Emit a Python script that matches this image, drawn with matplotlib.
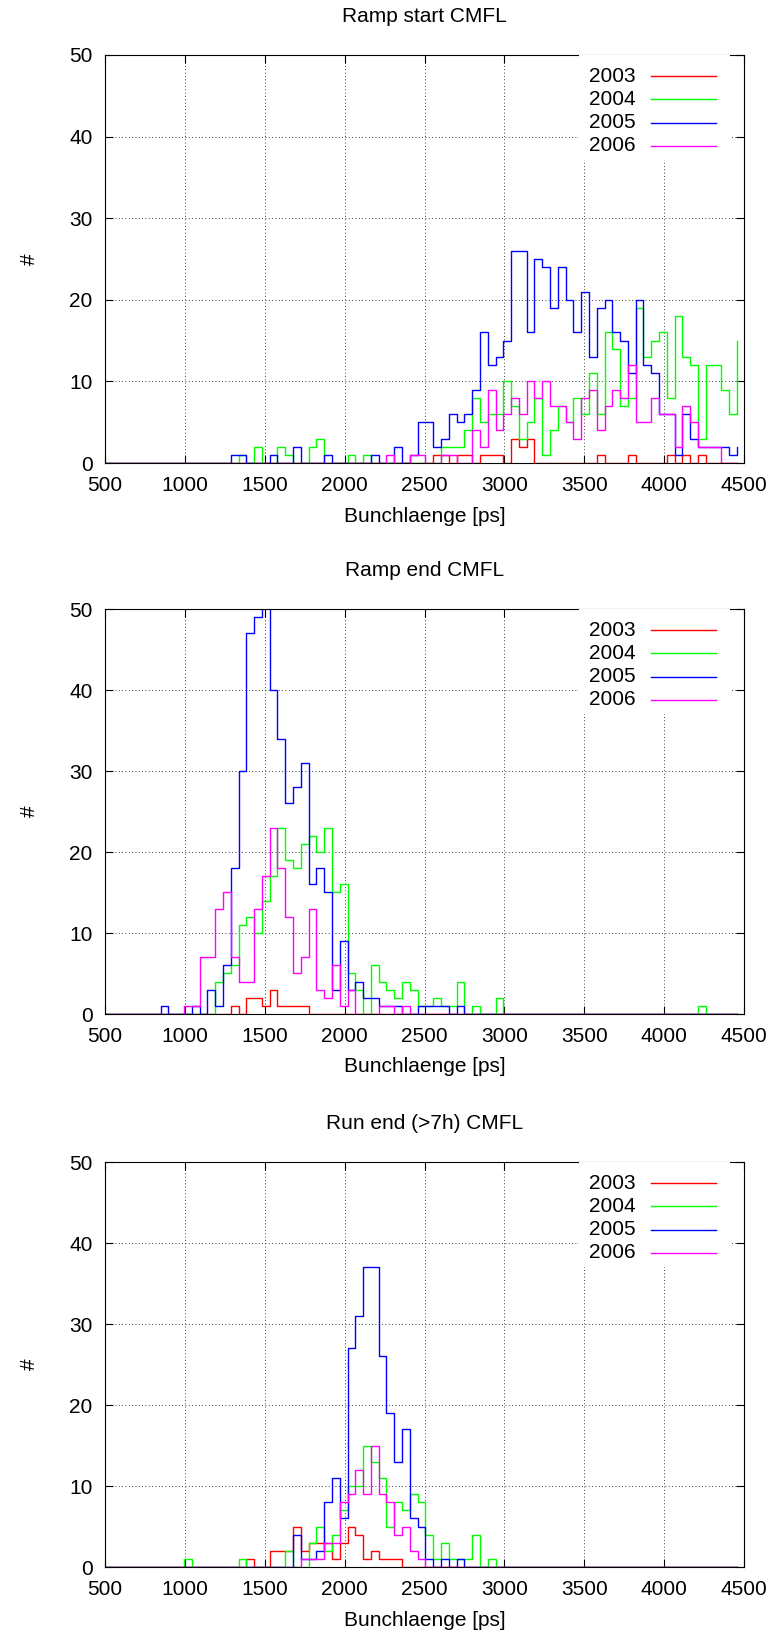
import numpy as np
import matplotlib
matplotlib.use('Agg')
import matplotlib.pyplot as plt
from matplotlib.patches import Rectangle

plt.rcParams['font.family'] = ['Liberation Sans', 'DejaVu Sans']
FS = 15

years = ['2003', '2004', '2005', '2006']
colors = ['#ff0000', '#00ff00', '#0000ff', '#ff00ff']
titles = ['Ramp start CMFL', 'Ramp end CMFL', 'Run end (>7h) CMFL']

# histogram bins (ps): steps drawn at bin_start + k*bin_width
bin_start = 507.
bin_width = 48.75
nbins = 82

# counts per bin index, only non-empty bins listed
start_2003 = {42: 1, 43: 1, 45: 1, 46: 1, 48: 1, 49: 1, 50: 1, 52: 3, 53: 2, 54: 3,
              63: 1, 67: 1, 72: 1, 74: 1, 76: 1}
start_2004 = {17: 1, 19: 2, 22: 2, 23: 1, 26: 2, 27: 3, 31: 1, 33: 1, 43: 2, 44: 2,
              45: 2, 46: 4, 47: 8, 48: 5, 49: 6, 50: 6, 51: 10, 52: 7, 53: 3, 54: 5,
              55: 8, 56: 1, 57: 4, 58: 7, 59: 5, 60: 8, 61: 6, 62: 11, 63: 6, 64: 16,
              65: 14, 66: 7, 67: 8, 68: 19, 69: 13, 70: 15, 71: 16, 72: 8, 73: 18, 74: 13,
              75: 12, 76: 3, 77: 12, 78: 12, 79: 9, 80: 6, 81: 15}
start_2005 = {16: 1, 17: 1, 21: 1, 24: 2, 28: 1, 34: 1, 37: 2, 39: 1, 40: 5, 41: 5,
              42: 2, 43: 3, 44: 6, 45: 5, 46: 6, 47: 9, 48: 16, 49: 12, 50: 13, 51: 15,
              52: 26, 53: 26, 54: 16, 55: 25, 56: 24, 57: 19, 58: 24, 59: 20, 60: 16, 61: 21,
              62: 13, 63: 19, 64: 20, 65: 16, 66: 15, 67: 11, 68: 20, 69: 12, 70: 11, 71: 6,
              72: 6, 73: 1, 74: 6, 75: 3, 76: 2, 77: 2, 78: 2, 79: 2, 80: 1, 81: 2}
start_2006 = {36: 1, 39: 1, 40: 1, 43: 1, 44: 1, 47: 4, 48: 2, 49: 9, 50: 4, 51: 6,
              52: 8, 53: 6, 54: 10, 55: 8, 56: 10, 57: 7, 58: 7, 59: 5, 60: 3, 61: 8,
              62: 9, 63: 4, 64: 7, 65: 9, 66: 8, 67: 12, 68: 5, 69: 5, 70: 8, 71: 6,
              72: 6, 73: 2, 74: 7, 75: 5, 76: 2, 77: 2, 78: 2}

end_2003 = {16: 1, 18: 2, 19: 2, 20: 1, 21: 3, 22: 1, 23: 1, 24: 1, 25: 1}
end_2004 = {14: 4, 15: 5, 16: 6, 17: 11, 18: 12, 19: 10, 20: 14, 21: 17, 22: 23, 23: 19,
            24: 18, 25: 21, 26: 22, 27: 20, 28: 23, 29: 15, 30: 16, 31: 5, 32: 3, 34: 6,
            35: 4, 36: 3, 37: 2, 38: 4, 39: 3, 40: 1, 41: 1, 42: 2, 43: 1, 44: 1,
            45: 4, 47: 1, 50: 2, 76: 1}
end_2005 = {7: 1, 11: 1, 13: 3, 14: 1, 15: 6, 16: 18, 17: 30, 18: 47, 19: 49, 20: 55,
            21: 40, 22: 34, 23: 26, 24: 28, 25: 31, 26: 16, 27: 18, 28: 15, 29: 3, 30: 9,
            31: 3, 32: 4, 33: 2, 34: 2, 35: 1, 36: 1, 37: 1, 40: 1, 41: 1, 42: 1,
            43: 1, 45: 1}
end_2006 = {10: 1, 11: 1, 12: 7, 13: 7, 14: 13, 15: 15, 16: 7, 17: 4, 18: 4, 19: 13,
            20: 17, 21: 23, 22: 18, 23: 12, 24: 5, 25: 7, 26: 13, 27: 3, 28: 2, 29: 6,
            30: 1, 31: 3, 35: 1, 36: 1, 38: 1}

run_2003 = {18: 1, 21: 2, 22: 2, 23: 2, 24: 5, 25: 2, 26: 3, 27: 3, 28: 3, 29: 1,
            30: 3, 31: 5, 32: 4, 33: 1, 34: 2, 35: 1, 36: 1, 37: 1}
run_2004 = {10: 1, 17: 1, 23: 2, 26: 3, 27: 5, 28: 2, 29: 4, 30: 7, 31: 10, 32: 10,
            33: 15, 34: 13, 35: 11, 36: 5, 37: 8, 38: 7, 39: 9, 40: 8, 41: 4, 42: 1,
            43: 3, 44: 1, 45: 1, 46: 1, 47: 4, 49: 1}
run_2005 = {24: 4, 25: 1, 26: 1, 27: 2, 28: 8, 29: 11, 30: 6, 31: 27, 32: 31, 33: 37,
            34: 37, 35: 26, 36: 19, 37: 13, 38: 17, 39: 6, 40: 5, 41: 1, 43: 1, 45: 1}
run_2006 = {25: 1, 26: 1, 27: 1, 28: 3, 29: 3, 30: 8, 31: 9, 32: 12, 33: 9, 34: 15,
            35: 9, 36: 8, 37: 4, 38: 5, 39: 2, 40: 1}

panels = [
    [start_2003, start_2004, start_2005, start_2006],
    [end_2003, end_2004, end_2005, end_2006],
    [run_2003, run_2004, run_2005, run_2006],
]


def to_counts(d):
    h = np.zeros(nbins)
    for k, v in d.items():
        h[k] = v
    return h


bins = bin_start + bin_width * np.arange(nbins)

W, H = 779., 1644.
left, right = 105., 744.
tops = [55., 609., 1162.]
bottoms = [463., 1014., 1567.]

fig = plt.figure(figsize=(W / 100, H / 100), dpi=100)

for i in range(3):
    top, bot = tops[i], bottoms[i]
    hpx = bot - top
    ax = fig.add_axes([left / W, 1 - bot / H, (right - left) / W, hpx / H])

    for d, c in zip(panels[i], colors):
        ax.step(bins, to_counts(d), where='post', color=c, lw=1.0, zorder=2)

    ax.set_xlim(500, 4500)
    ax.set_ylim(0, 50)
    ax.set_xticks(np.arange(500, 4501, 500))
    ax.set_yticks(np.arange(0, 51, 10))
    ax.tick_params(direction='in', top=True, right=True, length=6, width=0.8,
                   labelsize=FS, pad=9)
    ax.grid(True, color='black', linestyle=(0, (1, 3)), linewidth=0.6)
    ax.set_axisbelow(True)
    for s in ax.spines.values():
        s.set_linewidth(0.8)

    ax.text(0.5, 1 + 39 / hpx, titles[i], transform=ax.transAxes,
            ha='center', va='center', fontsize=FS)
    ax.set_xlabel('Bunchlaenge [ps]', fontsize=FS)
    ax.xaxis.set_label_coords(0.5, -53 / hpx)
    ax.xaxis.label.set_va('center')
    ax.set_ylabel('#', fontsize=FS)
    ax.yaxis.set_label_coords((29 - left) / (right - left), 0.5)
    ax.yaxis.label.set_va('center')

    # key: white patch over the grid, labels left of line samples
    wpx = right - left
    ax.add_patch(Rectangle(((579 - left) / wpx, 1 - 105 / hpx), 151 / wpx, 105 / hpx,
                           transform=ax.transAxes, facecolor='white',
                           edgecolor='none', zorder=3))
    for j, (yr, c) in enumerate(zip(years, colors)):
        y = 1 - (21 + 23.3 * j) / hpx
        ax.plot([(651 - left) / wpx, (716 - left) / wpx], [y, y], color=c, lw=1.0,
                transform=ax.transAxes, zorder=4)
        ax.text((636 - left) / wpx, y, yr, transform=ax.transAxes, ha='right',
                va='center', fontsize=FS, zorder=4)

fig.savefig('out.png', dpi=100)
